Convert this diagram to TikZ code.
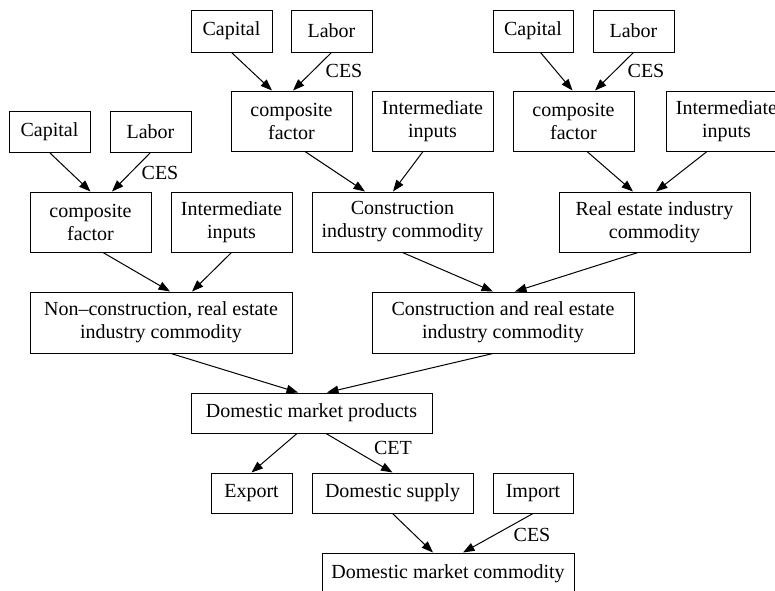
\documentclass[tikz,border=0pt]{standalone}
\usepackage{fontspec}
\setmainfont{Liberation Serif}
\usetikzlibrary{arrows.meta}

\begin{document}
\begin{tikzpicture}[x=1pt, y=-1pt]
	\useasboundingbox (0,0) rectangle (775,590);
	\clip (0,0) rectangle (775,590);
	\begin{scope}
		\tikzstyle{every node}=[align=center, inner sep=0.2em, font=\fontsize{20}{23}\selectfont]
		\tikzstyle{box}=[draw, line width=1pt, minimum height=60]
		\tikzstyle{flow}=[->, >={Triangle[length=11.5pt, width=8.5pt]}, line width=1pt]

		% factor inputs
		\node[box, minimum width=81, minimum height=41] (cap1) at (49.5, 131.5) {Capital};
		\node[box, minimum width=81, minimum height=41] (lab1) at (150.5, 131.5) {Labor};
		\node[box, minimum width=81, minimum height=42] (cap2) at (231.5, 31) {Capital};
		\node[box, minimum width=81, minimum height=42] (lab2) at (331.5, 31) {Labor};
		\node[box, minimum width=80, minimum height=42] (cap3) at (533, 31) {Capital};
		\node[box, minimum width=81, minimum height=42] (lab3) at (633.5, 31) {Labor};

		\node[box, minimum width=121] (cf1) at (90.5, 222)  {composite\\factor};
		\node[box, minimum width=121] (ii1) at (231.5, 222) {Intermediate\\inputs};
		\node[box, minimum width=121] (cf2) at (291.5, 121) {composite\\factor};
		\node[box, minimum width=121] (ii2) at (432.5, 121) {Intermediate\\inputs};
		\node[box, minimum width=121] (cf3) at (573.5, 121) {composite\\factor};
		\node[box, minimum width=121] (ii3) at (726.5, 121) {Intermediate\\inputs};

		% industry commodities
		\node[box, minimum width=181] (cic)  at (402.5, 222) {Construction\\industry commodity};
		\node[box, minimum width=191] (reic) at (654.5, 222) {Real estate industry\\commodity};
		\node[box, minimum width=262, minimum height=61] (ncr) at (161, 322.5) {Non--construction, real estate\\industry commodity};
		\node[box, minimum width=262, minimum height=61] (crc) at (503, 322.5) {Construction and real estate\\industry commodity};

		% market
		\node[box, minimum width=241, minimum height=40] (dmp) at (311.5, 413) {Domestic market products};
		\node[box, minimum width=81, minimum height=40]  (exp) at (251.5, 493) {Export};
		\node[box, minimum width=161, minimum height=40] (ds)  at (392.5, 493) {Domestic supply};
		\node[box, minimum width=80, minimum height=40]  (imp) at (533, 493)   {Import};
		\node[box, minimum width=252, minimum height=42] (dmc) at (448, 574)   {Domestic market commodity};

		\node (ces1) at (160, 173) {CES};
		\node (ces2) at (344, 71)  {CES};
		\node (ces3) at (646, 71)  {CES};
		\node (cet)  at (393, 448) {CET};
		\node (ces4) at (532, 535) {CES};

		\draw [flow] (cap1.south) to (cf1.north);
		\draw [flow] (lab1.south) to ([xshift=21.5pt]cf1.north);
		\draw [flow] (cap2.south) to ([xshift=-19.5pt]cf2.north);
		\draw [flow] (lab2.south) to ([xshift=1.5pt]cf2.north);
		\draw [flow] ([xshift=7.5pt]cap3.south) to ([xshift=-1pt]cf3.north);
		\draw [flow] (lab3.south) to ([xshift=21.5pt]cf3.north);

		\draw [flow] ([xshift=12.5pt]cf1.south) to ([xshift=9pt]ncr.north);
		\draw [flow] (ii1.south) to ([xshift=31pt]ncr.north);
		\draw [flow] ([xshift=13.5pt]cf2.south) to ([xshift=-37.5pt]cic.north);
		\draw [flow] ([xshift=-9.5pt]ii2.south) to ([xshift=-9.5pt]cic.north);
		\draw [flow] ([xshift=13.5pt]cf3.south) to ([xshift=-21.5pt]reic.north);
		\draw [flow] ([xshift=-19.5pt]ii3.south) to ([xshift=1.5pt]reic.north);

		\draw [flow] (cic.south) to ([xshift=-10pt]crc.north);
		\draw [flow] ([xshift=-16.5pt]reic.south) to ([xshift=12pt]crc.north);
		\draw [flow] ([xshift=10pt]ncr.south) to ([xshift=-13.5pt]dmp.north);
		\draw [flow] ([xshift=-10pt]crc.south) to ([xshift=15.5pt]dmp.north);

		\draw [flow] ([xshift=-14.5pt]dmp.south) to (exp.north);
		\draw [flow] ([xshift=14.5pt]dmp.south) to (ds.north);
		\draw [flow] (ds.south) to ([xshift=-15pt]dmc.north);
		\draw [flow] (imp.south) to ([xshift=15pt]dmc.north);
	\end{scope}
\end{tikzpicture}
\end{document}
